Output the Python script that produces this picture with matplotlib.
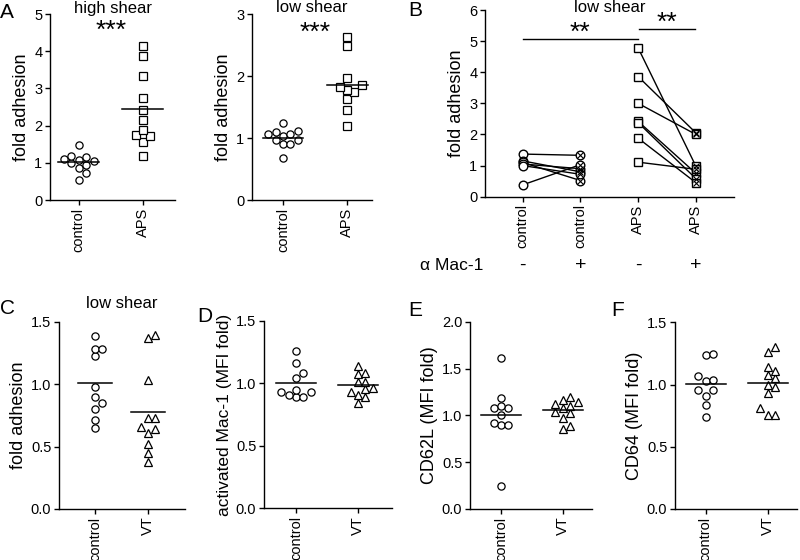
import matplotlib
matplotlib.use('Agg')
import matplotlib.pyplot as plt
import matplotlib.transforms as mtransforms
import numpy as np

plt.rcParams.update({
    'font.family': ['Liberation Sans', 'DejaVu Sans'],
    'font.size': 10,
    'axes.labelsize': 13,
    'axes.titlesize': 12,
    'xtick.labelsize': 10.5,
    'ytick.labelsize': 10.5,
    'axes.linewidth': 1.0,
    'xtick.major.width': 1.0,
    'ytick.major.width': 1.0,
    'xtick.major.size': 3.5,
    'ytick.major.size': 3.5,
    'xtick.major.pad': 2,
    'ytick.major.pad': 2,
    'axes.spines.top': False,
    'axes.spines.right': False,
})

# ---- data ----
a_groups = ['control', 'APS']
a_high_control = [1.49, 1.19, 1.15, 1.10, 1.07, 1.05, 0.99, 0.95, 0.87, 0.72, 0.54]
a_high_aps = [4.14, 3.86, 3.34, 2.75, 2.42, 2.16, 1.88, 1.75, 1.73, 1.57, 1.19]
a_low_control = [1.25, 1.11, 1.10, 1.07, 1.06, 1.03, 0.97, 0.97, 0.90, 0.90, 0.68]
a_low_aps = [2.63, 2.49, 1.97, 1.85, 1.83, 1.77, 1.74, 1.63, 1.45, 1.20]

b_groups = ['control', 'control', 'APS', 'APS']
b_mac1 = ['-', '+', '-', '+']
b_control_minus = [1.37, 1.15, 1.10, 1.05, 1.00, 0.38]
b_control_plus = [1.33, 0.80, 0.52, 0.90, 0.72, 1.03]
b_aps_minus = [4.78, 3.86, 3.00, 2.42, 2.38, 1.88, 1.11]
b_aps_plus = [0.98, 2.05, 2.00, 0.75, 0.58, 0.45, 0.88]

vt_groups = ['control', 'VT']
c_control = [1.385, 1.285, 1.285, 1.225, 0.98, 0.895, 0.845, 0.80, 0.715, 0.645]
c_vt = [1.395, 1.37, 1.035, 0.73, 0.73, 0.66, 0.64, 0.61, 0.52, 0.445, 0.38]
d_control = [1.26, 1.16, 1.08, 1.045, 0.95, 0.93, 0.93, 0.91, 0.89, 0.89]
d_vt = [1.14, 1.085, 1.075, 1.015, 1.015, 0.96, 0.955, 0.93, 0.905, 0.895, 0.845]
e_control = [1.615, 1.18, 1.10, 1.08, 1.08, 1.005, 0.915, 0.90, 0.90, 0.245]
e_vt = [1.20, 1.16, 1.14, 1.12, 1.10, 1.08, 1.04, 1.02, 0.97, 0.89, 0.85]
f_control = [1.245, 1.24, 1.065, 1.04, 1.03, 0.96, 0.96, 0.905, 0.835, 0.74]
f_vt = [1.30, 1.26, 1.14, 1.11, 1.08, 1.05, 1.00, 0.98, 0.93, 0.81, 0.755, 0.755]

W, H = 800, 560
fig = plt.figure(figsize=(W / 100, H / 100), dpi=100)


def make_axes(x0, x1, ytop, ybot, xlim, ylim, yticks, fmt='{:g}'):
    ax = fig.add_axes([x0 / W, 1 - ybot / H, (x1 - x0) / W, (ybot - ytop) / H])
    ax.set_xlim(*xlim)
    ax.set_ylim(*ylim)
    ax.set_yticks(yticks)
    ax.set_yticklabels([fmt.format(t) for t in yticks])
    return ax


def swarm(ax, values, xpos, marker, diam=7.4):
    """simple greedy beeswarm in pixel space"""
    trans = ax.transData
    xc = trans.transform((xpos, 0))[0]
    placed = []
    steps = [0]
    for k in range(1, 6):
        steps += [k, -k]
    for v in sorted(values):
        yp = trans.transform((xpos, v))[1]
        for k in steps:
            xp = xc + k * diam
            if all(np.hypot(xp - px, yp - py) >= diam * 0.98 for px, py in placed):
                break
        placed.append((xp, yp))
    pts = trans.inverted().transform(np.array(placed))
    ax.plot(pts[:, 0], pts[:, 1], ls='none', marker=marker, ms=5.2,
            mfc='white', mec='black', mew=0.9, zorder=3)
    m = np.mean(values)
    ax.plot([xpos - 0.32, xpos + 0.32], [m, m], color='black', lw=1.1, zorder=4)


def cat_ticks(ax, labels):
    ax.set_xticks(range(1, len(labels) + 1))
    ax.set_xticklabels(labels, rotation=90)


def panel_letter(x, y, s):
    fig.text(x / W, 1 - y / H, s, fontsize=15, ha='center', va='center')


def title(ax, s, ytop):
    bt = mtransforms.blended_transform_factory(ax.transAxes, fig.transFigure)
    ax.text(0.5, 1 - ytop / H, s, transform=bt, fontsize=12,
            ha='center', va='top')


# ---- A ----
ax = make_axes(50, 175, 14, 200, (0.55, 2.5), (0, 5), range(0, 6))
cat_ticks(ax, a_groups)
swarm(ax, a_high_control, 1, 'o')
swarm(ax, a_high_aps, 2, 's')
ax.set_ylabel('fold adhesion', labelpad=3)
title(ax, 'high shear', 0.5)
ax.text(1.5, 4.55, '***', fontsize=19, ha='center', va='center')

ax = make_axes(252, 372, 14, 200, (0.516, 2.39), (0, 3), range(0, 4))
cat_ticks(ax, a_groups)
swarm(ax, a_low_control, 1, 'o')
swarm(ax, a_low_aps, 2, 's')
ax.set_ylabel('fold adhesion', labelpad=3)
title(ax, 'low shear', 0.5)
ax.text(1.5, 2.7, '***', fontsize=19, ha='center', va='center')
panel_letter(7, 12, 'A')

# ---- B ----
ax = make_axes(485, 734, 10, 196.7, (0.347, 4.66), (0, 6), range(0, 7))
cat_ticks(ax, b_groups)
for lo, hi in zip(b_control_minus, b_control_plus):
    ax.plot([1, 2], [lo, hi], color='black', lw=1, zorder=2)
for lo, hi in zip(b_aps_minus, b_aps_plus):
    ax.plot([3, 4], [lo, hi], color='black', lw=1, zorder=2)
mk = dict(ls='none', ms=6.2, mfc='white', mec='black', mew=1, zorder=3)
ax.plot([1] * len(b_control_minus), b_control_minus, marker='o', **mk)
ax.plot([2] * len(b_control_plus), b_control_plus, marker='o', **mk)
ax.plot([2] * len(b_control_plus), b_control_plus, ls='none', marker='x',
        ms=4, mec='black', mew=0.8, zorder=4)
ax.plot([3] * len(b_aps_minus), b_aps_minus, marker='s', **mk)
ax.plot([4] * len(b_aps_plus), b_aps_plus, marker='s', **mk)
ax.plot([4] * len(b_aps_plus), b_aps_plus, ls='none', marker='x',
        ms=4.5, mec='black', mew=0.8, zorder=4)
ax.plot([1, 3], [5.07, 5.07], color='black', lw=1, clip_on=False)
ax.plot([3.02, 3.98], [5.39, 5.39], color='black', lw=1, clip_on=False)
ax.text(2, 5.28, '**', fontsize=19, ha='center', va='center')
ax.text(3.5, 5.6, '**', fontsize=19, ha='center', va='center')
ax.set_ylabel('fold adhesion', labelpad=3)
title(ax, 'low shear', 0)
bt = mtransforms.blended_transform_factory(ax.transData, fig.transFigure)
for i, s in enumerate(b_mac1):
    ax.text(i + 1, 1 - 265 / H, s, transform=bt, fontsize=14,
            ha='center', va='center')
fig.text(483 / W, 1 - 265 / H, 'α Mac-1', fontsize=12.5, ha='right', va='center')
panel_letter(415, 10, 'B')

# ---- C ----
yt = [0.0, 0.5, 1.0, 1.5]
ax = make_axes(59, 185, 321.7, 509, (0.32, 2.70), (0, 1.5), yt, '{:.1f}')
cat_ticks(ax, vt_groups)
swarm(ax, c_control, 1, 'o')
swarm(ax, c_vt, 2, '^')
ax.set_ylabel('fold adhesion', labelpad=3)
title(ax, 'low shear', 296)
panel_letter(7, 309, 'C')

# ---- D ----
ax = make_axes(264, 392, 321, 508.3, (0.484, 2.55), (0, 1.5), yt, '{:.1f}')
cat_ticks(ax, vt_groups)
swarm(ax, d_control, 1, 'o')
swarm(ax, d_vt, 2, '^')
ax.set_ylabel('activated Mac-1 (MFI fold)', labelpad=3, fontsize=12.5)
panel_letter(205, 316, 'D')

# ---- E ----
ax = make_axes(470, 592, 321.7, 509, (0.5, 2.47), (0, 2.0),
               [0.0, 0.5, 1.0, 1.5, 2.0], '{:.1f}')
cat_ticks(ax, vt_groups)
swarm(ax, e_control, 1, 'o')
swarm(ax, e_vt, 2, '^')
ax.set_ylabel('CD62L (MFI fold)', labelpad=3)
panel_letter(415, 311, 'E')

# ---- F ----
ax = make_axes(675, 797, 322.3, 509, (0.505, 2.47), (0, 1.5), yt, '{:.1f}')
cat_ticks(ax, vt_groups)
swarm(ax, f_control, 1, 'o')
swarm(ax, f_vt, 2, '^')
ax.set_ylabel('CD64 (MFI fold)', labelpad=3)
panel_letter(618, 311, 'F')

fig.savefig('out.png', dpi=100)
